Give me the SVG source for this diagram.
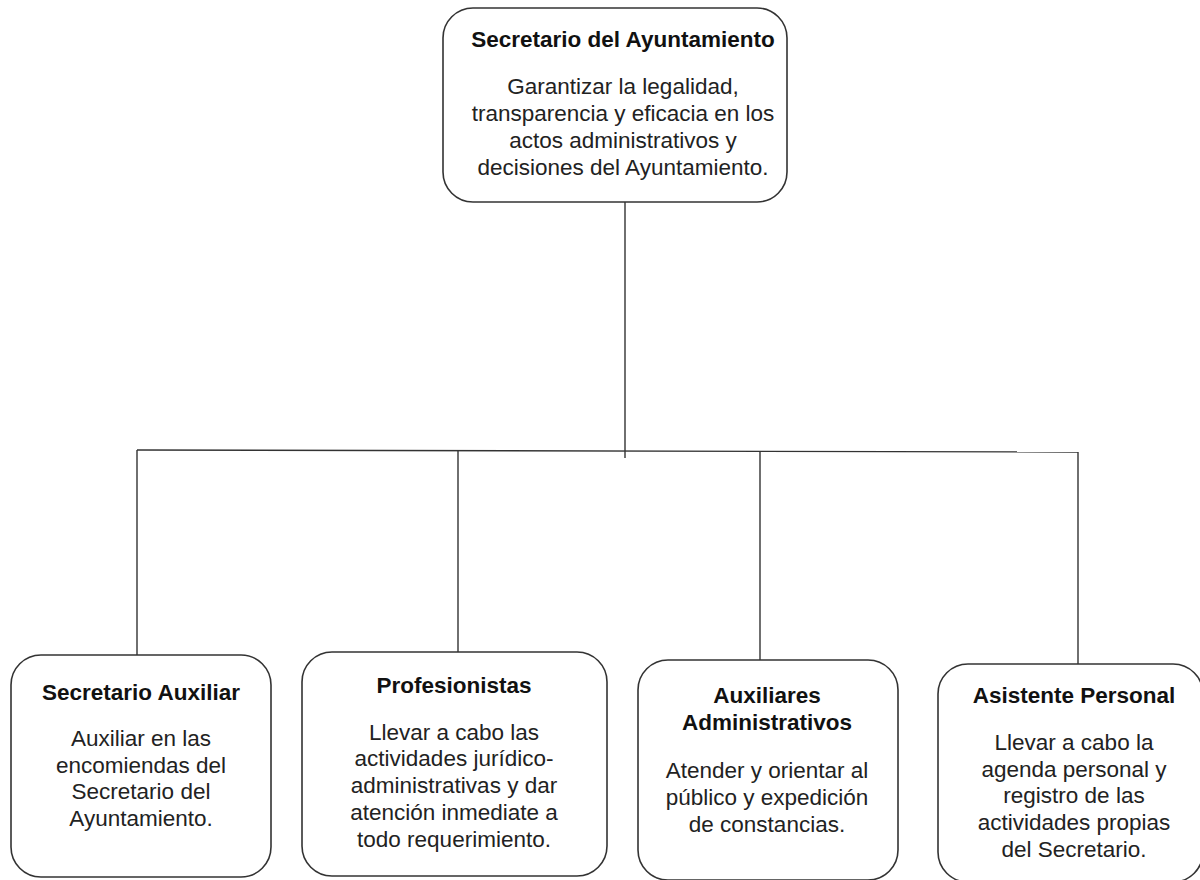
<svg xmlns="http://www.w3.org/2000/svg" width="1200" height="880" viewBox="0 0 1200 880">
<style>
.box{fill:#fff;stroke:#333;stroke-width:1.6}
.t{font-family:"Liberation Sans",Arial,sans-serif;font-size:22.5px;font-weight:bold;fill:#111;text-anchor:middle}
.b{font-family:"Liberation Sans",Arial,sans-serif;font-size:22.5px;fill:#222;text-anchor:middle}
.c{stroke:#333;stroke-width:1.4;fill:none}
</style>
<rect width="1200" height="880" fill="#fff"/>
<g id="connectors">
<line class="c" x1="625" y1="202" x2="625" y2="458"/>
<line class="c" x1="137" y1="450" x2="1078" y2="452"/>
<line class="c" x1="137" y1="450" x2="137" y2="655"/>
<line class="c" x1="458" y1="450" x2="458" y2="652"/>
<line class="c" x1="760" y1="451" x2="760" y2="660"/>
<line class="c" x1="1078" y1="452" x2="1078" y2="664"/>
</g>
<g id="n0">
<rect class="box" x="443" y="8" width="344" height="194" rx="30"/>
<text class="t" x="623" y="47">Secretario del Ayuntamiento</text>
<text class="b" x="623" y="94">Garantizar la legalidad,</text>
<text class="b" x="623" y="121">transparencia y eficacia en los</text>
<text class="b" x="623" y="148">actos administrativos y</text>
<text class="b" x="623" y="175">decisiones del Ayuntamiento.</text>
</g>
<g id="n1">
<rect class="box" x="11" y="655" width="260" height="222" rx="30"/>
<text class="t" x="141" y="700">Secretario Auxiliar</text>
<text class="b" x="141" y="746">Auxiliar en las</text>
<text class="b" x="141" y="773">encomiendas del</text>
<text class="b" x="141" y="799">Secretario del</text>
<text class="b" x="141" y="826">Ayuntamiento.</text>
</g>
<g id="n2">
<rect class="box" x="302" y="652" width="305" height="224" rx="30"/>
<text class="t" x="454" y="693">Profesionistas</text>
<text class="b" x="454" y="740">Llevar a cabo las</text>
<text class="b" x="454" y="766">actividades jurídico-</text>
<text class="b" x="454" y="793">administrativas y dar</text>
<text class="b" x="454" y="820">atención inmediate a</text>
<text class="b" x="454" y="847">todo requerimiento.</text>
</g>
<g id="n3">
<rect class="box" x="638" y="660" width="260" height="220" rx="30"/>
<text class="t" x="767" y="703">Auxiliares</text>
<text class="t" x="767" y="730">Administrativos</text>
<text class="b" x="767" y="778">Atender y orientar al</text>
<text class="b" x="767" y="805">público y expedición</text>
<text class="b" x="767" y="832">de constancias.</text>
</g>
<g id="n4">
<rect class="box" x="938" y="664" width="265" height="218" rx="30"/>
<text class="t" x="1074" y="703">Asistente Personal</text>
<text class="b" x="1074" y="750">Llevar a cabo la</text>
<text class="b" x="1074" y="777">agenda personal y</text>
<text class="b" x="1074" y="803">registro de las</text>
<text class="b" x="1074" y="830">actividades propias</text>
<text class="b" x="1074" y="857">del Secretario.</text>
</g>
</svg>
